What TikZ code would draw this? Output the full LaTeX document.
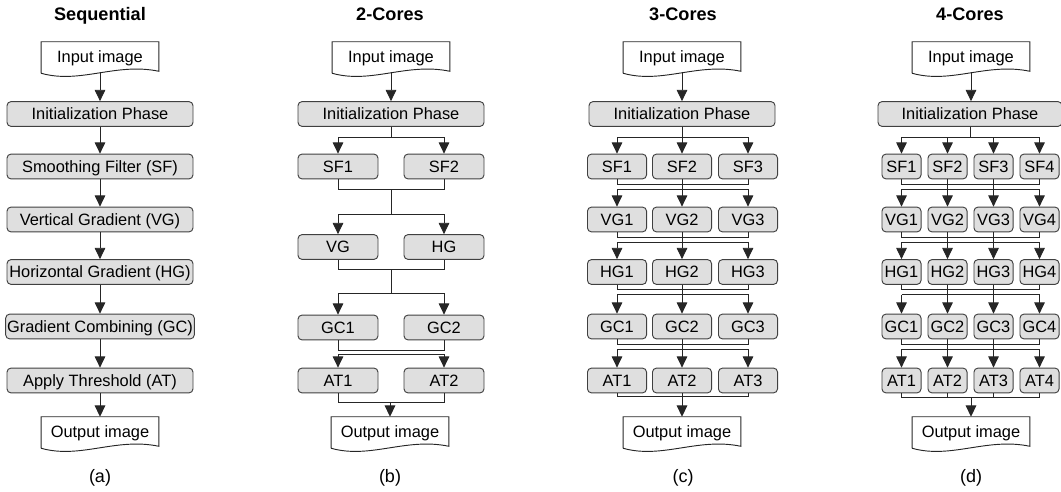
\documentclass[tikz,border=0pt]{standalone}
\usepackage{fontspec}
\setmainfont{Liberation Sans}
\usepackage{tikz}
\usetikzlibrary{arrows.meta,calc}
\tikzstyle{phase}=[draw=black!75, fill=gray!25, rounded corners=3pt, line width=0.7pt, minimum height=18.6pt, inner xsep=1pt, inner ysep=0pt, text height=8.8pt, text depth=0pt, font=\fontsize{12.3}{14}\selectfont]
\tikzstyle{wide}=[phase, minimum width=139.5pt]
\tikzstyle{ctwo}=[phase, minimum width=60pt]
\tikzstyle{cthree}=[phase, minimum width=44.3pt]
\tikzstyle{cfour}=[phase, minimum width=29.3pt]
\tikzstyle{wire}=[draw=black!85, line width=0.7pt]
\tikzstyle{flow}=[wire, -{Triangle[length=8.5pt,width=8pt]}]
\tikzstyle{docshape}=[minimum width=87.8pt, minimum height=22.5pt, inner sep=0pt, text height=8.8pt, text depth=0pt, font=\fontsize{12.3}{14}\selectfont]
\tikzstyle{title}=[font=\fontsize{13.6}{16}\selectfont\bfseries, text height=9.7pt, text depth=0pt]
\tikzstyle{caption}=[font=\fontsize{13.5}{16}\selectfont]
% document symbol: box with a wavy lower edge
\newcommand{\docNbox}[3]{
	\node[docshape] (#1) at #2 {#3};
	\draw[wire] ($(#1.south west)+(0,1)$) -- (#1.north west) -- (#1.north east) -- ($(#1.south east)+(0,-1)$) .. controls ($(#1.south east)+(-43,-10)$) and ($(#1.south west)+(39,12)$) .. ($(#1.south west)+(0,1)$);
}
\begin{document}
\begin{tikzpicture}[x=0.75pt,y=-0.75pt]
	\useasboundingbox (0,0) rectangle (1061,492);
	% (a) sequential
	\node[title] (atitle) at (100,14.5) {Sequential};
	\docNbox{ain}{(100,57)}{Input image}
	\node[wide] (a1) at (100,114) {Initialization Phase};
	\node[wide] (a2) at (100,166.5) {Smoothing Filter (SF)};
	\node[wide] (a3) at (100,219.5) {Vertical Gradient (VG)};
	\node[wide] (a4) at (100,272) {Horizontal Gradient (HG)};
	\node[wide] (a5) at (100,326.5) {Gradient Combining (GC)};
	\node[wide] (a6) at (100,380.5) {Apply Threshold (AT)};
	\docNbox{aout}{(100,432)}{Output image}
	\draw[flow] (ain.south) -- (a1.north);
	\draw[flow] (a1) -- (a2);
	\draw[flow] (a2) -- (a3);
	\draw[flow] (a3) -- (a4);
	\draw[flow] (a4) -- (a5);
	\draw[flow] (a5) -- (a6);
	\draw[flow] (a6) -- (aout.north);
	\node[caption] (acap) at (100,478) {(a)};
	% (b) two cores
	\node[title] (btitle) at (390,14.5) {2-Cores};
	\docNbox{bin}{(391,57)}{Input image}
	\node[wide] (binit) at (391,114) {Initialization Phase};
	\node[ctwo] (bSF1) at (338,166.5) {SF1};
	\node[ctwo] (bSF2) at (444,166.5) {SF2};
	\node[ctwo] (bVG) at (338,247) {VG};
	\node[ctwo] (bHG) at (444,247) {HG};
	\node[ctwo] (bGC1) at (338,327.5) {GC1};
	\node[ctwo] (bGC2) at (444,327.5) {GC2};
	\node[ctwo] (bAT1) at (338,380.5) {AT1};
	\node[ctwo] (bAT2) at (444,380.5) {AT2};
	\docNbox{bout}{(390,432)}{Output image}
	\draw[flow] (bin.south) -- (binit.north);
	\draw[flow] (binit.south) -- ++(0,11) -| (bSF1.north);
	\draw[flow] (binit.south) -- ++(0,11) -| (bSF2.north);
	\draw[wire] (bSF1.south) -- ++(0,10) -| (bSF2.south);
	\coordinate (bm1) at ($(bSF1.south)!0.5!(bSF2.south)+(0,10)$);
	\draw[wire] (bm1) -- ++(0,25) coordinate (bs1);
	\draw[flow] (bs1) -| (bVG.north);
	\draw[flow] (bs1) -| (bHG.north);
	\draw[wire] (bVG.south) -- ++(0,10) -| (bHG.south);
	\coordinate (bm2) at ($(bVG.south)!0.5!(bHG.south)+(0,10)$);
	\draw[wire] (bm2) -- ++(0,24) coordinate (bs2);
	\draw[flow] (bs2) -| (bGC1.north);
	\draw[flow] (bs2) -| (bGC2.north);
	\draw[wire] (bGC1.south) -- ++(0,10) -| (bGC2.south);
	\draw[flow] ($(bGC1.south)+(0,14)$) -- (bAT1.north);
	\draw[flow] ($(bGC1.south)+(0,14)$) -| (bAT2.north);
	\draw[wire] (bAT1.south) -- ++(0,9) -| (bAT2.south);
	\coordinate (bj) at ($(bAT1.south)+(0,9)$);
	\draw[flow] (bj -| bout.north) -- (bout.north);
	\node[caption] (bcap) at (390,478) {(b)};
	% (c) three cores
	\node[title] (ctitle) at (683,14.5) {3-Cores};
	\docNbox{cin}{(682,57)}{Input image}
	\node[wide] (cinit) at (682,114) {Initialization Phase};
	\foreach \r/\y in {SF/166.5, VG/219.5, HG/272, GC/326.5, AT/380.5}
		\foreach \i/\x in {1/617, 2/682, 3/748}
			\node[cthree] (c\r\i) at (\x,\y) {\r\i};
	\docNbox{cout}{(682,432)}{Output image}
	\draw[flow] (cin.south) -- (cinit.north);
	\draw[flow] (cinit.south) -- ++(0,11) -| (cSF1.north);
	\draw[flow] (cinit.south) -- (cSF2.north);
	\draw[flow] (cinit.south) -- ++(0,11) -| (cSF3.north);
	\foreach \r/\s in {SF/VG, VG/HG, HG/GC, GC/AT} {
		\draw[wire] (c\r1.south) -- ++(0,5) -| (c\r3.south);
		\draw[flow] ($(c\r1.south)+(0,10)$) -- (c\s1.north);
		\draw[flow] ($(c\r1.south)+(0,10)$) -| (c\s3.north);
		\draw[flow] (c\r2.south) -- (c\s2.north);
	}
	\draw[wire] (cAT1.south) -- ++(0,3) -| (cAT3.south);
	\draw[flow] (cAT2.south) -- (cout.north);
	\node[caption] (ccap) at (683,478) {(c)};
	% (d) four cores
	\node[title] (dtitle) at (970,14.5) {4-Cores};
	\docNbox{din}{(971,57)}{Input image}
	\node[wide, minimum width=138pt] (dinit) at (970,114) {Initialization Phase};
	\foreach \r/\y in {SF/166.5, VG/219.5, HG/272, GC/326.5, AT/380.5}
		\foreach \i/\x in {1/901.5, 2/947.5, 3/993.5, 4/1039.5}
			\node[cfour] (d\r\i) at (\x,\y) {\r\i};
	\docNbox{dout}{(971,432)}{Output image}
	\draw[flow] (din.south) -- (din.south |- dinit.north);
	\foreach \i in {1,2,3,4}
		\draw[flow] (dinit.south) -- ++(0,11) -| (dSF\i.north);
	\foreach \r/\s in {SF/VG, VG/HG, HG/GC, GC/AT} {
		\draw[wire] (d\r1.south) -- ++(0,5) -| (d\r4.south);
		\draw[flow] ($(d\r1.south)+(0,10)$) -- (d\s1.north);
		\draw[flow] ($(d\r1.south)+(0,10)$) -| (d\s4.north);
		\draw[flow] (d\r2.south) -- (d\s2.north);
		\draw[flow] (d\r3.south) -- (d\s3.north);
	}
	\draw[wire] (dAT1.south) -- ++(0,4) -| (dAT4.south);
	\draw[wire] (dAT2.south) -- ++(0,4);
	\draw[wire] (dAT3.south) -- ++(0,4);
	\coordinate (dj) at ($(dAT1.south)+(0,4)$);
	\draw[flow] (dj -| dout.north) -- (dout.north);
	\node[caption] (dcap) at (971,478) {(d)};
\end{tikzpicture}
\end{document}
